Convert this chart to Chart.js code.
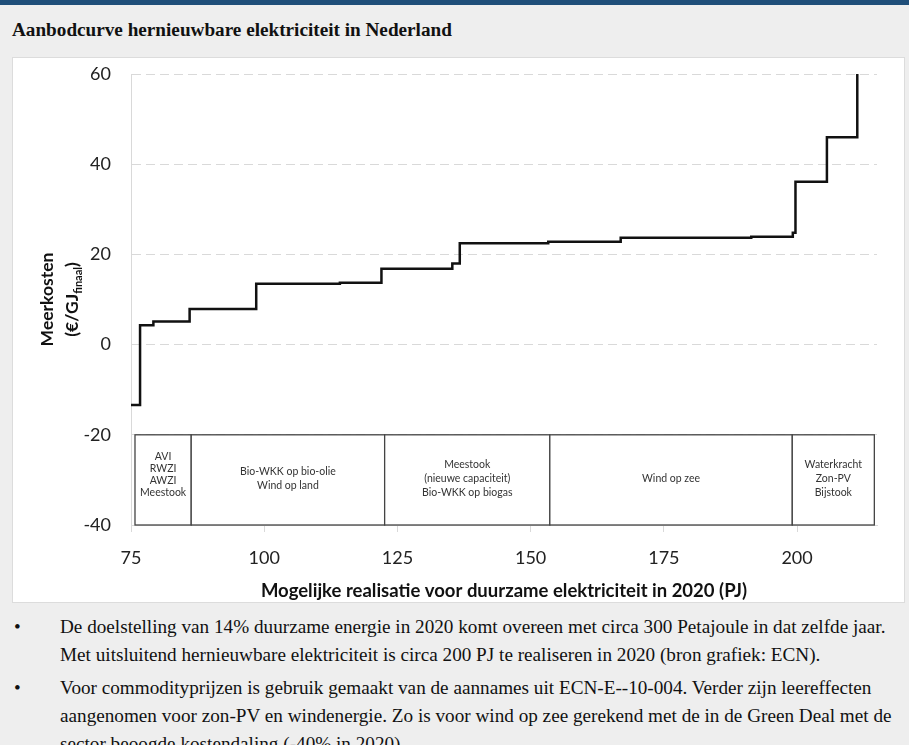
<!DOCTYPE html>
<html lang="nl">
<head>
<meta charset="utf-8">
<title>Aanbodcurve hernieuwbare elektriciteit in Nederland</title>
<script src="https://cdn.jsdelivr.net/npm/chart.js@4.4.1/dist/chart.umd.min.js"></script>
<style>
  html, body { margin: 0; padding: 0; }
  body {
    width: 909px; height: 745px; overflow: hidden;
    background: #eeeeee; position: relative;
  }
  .topbar { position: absolute; left: 0; top: 0; width: 909px; height: 5px; background: #1f4e79; }
  .titel {
    position: absolute; left: 12px; top: 19px;
    font-family: "Liberation Serif", "Times New Roman", serif;
    font-weight: bold; font-size: 19.2px; color: #111;
  }
  .paneel {
    position: absolute; left: 12px; top: 57px; width: 893px; height: 546px;
    box-sizing: border-box; border: 1px solid #dcdcdc; background: #fff;
  }
  .paneel canvas { display: block; }
  .noten {
    position: absolute; left: 0; top: 613px; width: 909px; margin: 0; padding: 0;
    list-style: none;
    font-family: "Liberation Serif", "Times New Roman", serif;
    font-size: 19.2px; line-height: 28px; color: #111;
  }
  .noten li { position: relative; padding-left: 60px; margin-bottom: 5px; }
  .noten li::before { content: "\2022"; position: absolute; left: 14px; top: 0; }
</style>
</head>
<body>
<div class="topbar"></div>
<div class="titel">Aanbodcurve hernieuwbare elektriciteit in Nederland</div>
<div class="paneel"><canvas id="aanbod" width="891" height="544"></canvas></div>
<ul class="noten">
  <li>De doelstelling van 14% duurzame energie in 2020 komt overeen met circa 300 Petajoule in dat zelfde jaar. Met uitsluitend hernieuwbare elektriciteit is circa 200 PJ te realiseren in 2020 (bron grafiek: ECN).</li>
  <li>Voor commodityprijzen is gebruik gemaakt van de aannames uit ECN-E--10-004. Verder zijn leereffecten aangenomen voor zon-PV en windenergie. Zo is voor wind op zee gerekend met de in de Green Deal met de sector beoogde kostendaling (-40% in 2020).</li>
</ul>

<script>
// begin van elke stap (PJ) en de meerkosten van die stap (EUR/GJ finaal)
const stapStart = [75, 76.7, 79.2, 86.0, 98.5, 114.2, 122.0, 135.3, 136.7, 153.3, 166.9, 191.4, 199.2, 199.7, 205.6, 211.3]
const meerkosten = [-13.4, 4.3, 5.1, 7.9, 13.5, 13.7, 16.8, 18.0, 22.5, 22.8, 23.7, 23.9, 24.8, 36.1, 46.0, 60]

const xTicks = [75, 100, 125, 150, 175, 200]
const yTicks = [-40, -20, 0, 20, 40, 60]

// blokken onder de curve: grenzen op de x-as en de technieken per blok
const blokGrenzen = [75.75, 86.3, 122.6, 153.6, 199.1, 214.5]
const blokTeksten = [
  ["AVI", "RWZI", "AWZI", "Meestook"],
  ["Bio-WKK op bio-olie", "Wind op land"],
  ["Meestook", "(nieuwe capaciteit)", "Bio-WKK op biogas"],
  ["Wind op zee"],
  ["Waterkracht", "Zon-PV", "Bijstook"],
]
const blokBoven = -20
const blokOnder = -40

const xTitel = "Mogelijke realisatie voor duurzame elektriciteit in 2020 (PJ)"
const yTitel = ["Meerkosten", "(€/GJ", "finaal", ")"]

const fontFam = "Lato, 'Open Sans', sans-serif"

// blokken met technieken tekenen
const blokkenPlugin = {
  id: "blokken",
  afterDatasetsDraw(chart) {
    const { ctx, scales } = chart
    const x = scales.x
    const y = scales.y
    const top = y.getPixelForValue(blokBoven)
    const bottom = y.getPixelForValue(blokOnder)
    ctx.save()
    ctx.strokeStyle = "#444"
    ctx.lineWidth = 1.3
    for (let i = 0; i < blokTeksten.length; i++) {
      const l = x.getPixelForValue(blokGrenzen[i])
      const r = x.getPixelForValue(blokGrenzen[i + 1])
      ctx.fillStyle = "#fff"
      ctx.fillRect(l, top, r - l, bottom - top)
      ctx.strokeRect(l, top, r - l, bottom - top)
      const lines = blokTeksten[i]
      const lh = i === 0 ? 12 : 14
      const midY = (top + bottom) / 2 - (i === 0 ? 5 : 1)
      ctx.fillStyle = "#333"
      ctx.font = "10.5px " + fontFam
      ctx.textAlign = "center"
      ctx.textBaseline = "middle"
      lines.forEach((t, j) => {
        ctx.fillText(t, (l + r) / 2, midY + (j - (lines.length - 1) / 2) * lh)
      })
    }
    ctx.restore()
  },
}

// y-as titel met subscript
const yTitelPlugin = {
  id: "yTitel",
  afterDraw(chart) {
    const { ctx, chartArea } = chart
    const midY = (chartArea.top + chartArea.bottom) / 2
    const big = "bold 17.5px " + fontFam
    const small = "bold 11px " + fontFam

    ctx.save()
    ctx.fillStyle = "#111"
    ctx.textBaseline = "middle"
    ctx.textAlign = "center"
    ctx.translate(34, midY)
    ctx.rotate(-Math.PI / 2)
    ctx.font = big
    ctx.fillText(yTitel[0], 0, 0)
    ctx.restore()

    ctx.save()
    ctx.fillStyle = "#111"
    ctx.textBaseline = "middle"
    ctx.translate(59, midY)
    ctx.rotate(-Math.PI / 2)
    ctx.font = big
    const w1 = ctx.measureText(yTitel[1]).width
    const w3 = ctx.measureText(yTitel[3]).width
    ctx.font = small
    const w2 = ctx.measureText(yTitel[2]).width
    let pos = -(w1 + w2 + w3) / 2
    ctx.textAlign = "left"
    ctx.font = big
    ctx.fillText(yTitel[1], pos, 0)
    pos += w1
    ctx.font = small
    ctx.fillText(yTitel[2], pos, 6)
    pos += w2
    ctx.font = big
    ctx.fillText(yTitel[3], pos, 0)
    ctx.restore()
  },
}

document.addEventListener("DOMContentLoaded", () => {
  const ctx = document.getElementById("aanbod")

  new Chart(ctx, {
    type: "line",
    data: {
      datasets: [
        {
          label: "Aanbodcurve",
          data: stapStart.map((v, i) => ({ x: v, y: meerkosten[i] })),
          stepped: "before",
          borderColor: "#111",
          borderWidth: 2.5,
          pointRadius: 0,
          fill: false,
        },
      ],
    },
    options: {
      responsive: false,
      animation: false,
      layout: { padding: { top: 16, right: 27, left: 0, bottom: 0 } },
      plugins: {
        legend: { display: false },
        tooltip: { enabled: false },
      },
      scales: {
        x: {
          type: "linear",
          min: 75,
          max: 215,
          afterBuildTicks: (scale) => {
            scale.ticks = xTicks.map((v) => ({ value: v }))
          },
          afterFit: (scale) => {
            scale.height = 77
          },
          grid: {
            drawOnChartArea: false,
            drawTicks: true,
            tickLength: 7,
            color: "#d9d9d9",
          },
          border: { display: true, color: "#d9d9d9" },
          ticks: {
            padding: 15,
            color: "#222",
            font: { family: fontFam, size: 18 },
            maxRotation: 0,
          },
          title: {
            display: true,
            text: xTitel,
            color: "#111",
            font: { family: fontFam, size: 18.5, weight: "bold" },
            padding: { top: 4, bottom: 0 },
          },
        },
        y: {
          min: -40,
          max: 60,
          afterBuildTicks: (scale) => {
            scale.ticks = yTicks.map((v) => ({ value: v }))
          },
          afterFit: (scale) => {
            scale.width = 118
          },
          grid: {
            color: "#d9d9d9",
            drawTicks: true,
            tickLength: 20,
            tickColor: "rgba(0,0,0,0)",
          },
          border: { display: true, color: "#d9d9d9", dash: [9, 5] },
          ticks: {
            padding: 0,
            color: "#222",
            font: { family: fontFam, size: 18 },
          },
        },
      },
    },
    plugins: [blokkenPlugin, yTitelPlugin],
  })
})
</script>
</body>
</html>
